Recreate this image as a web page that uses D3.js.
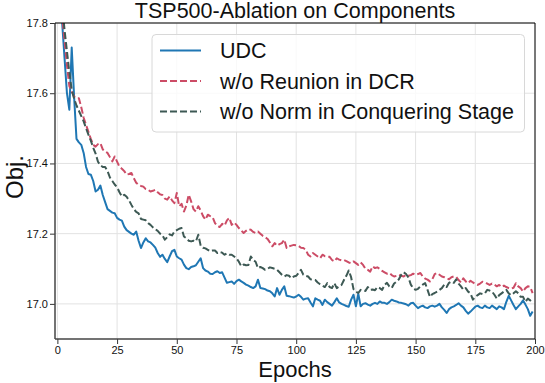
<!DOCTYPE html>
<html><head><meta charset="utf-8">
<script src="https://cdn.jsdelivr.net/npm/d3@7"></script>
<style>body{margin:0;background:#fff;}svg{display:block;font-family:"Liberation Sans",Arial,sans-serif;}</style>
</head><body><svg id="c" width="545" height="383"></svg>
<script>
const title = "TSP500-Ablation on Components";
const xLabel = "Epochs";
const yLabel = "Obj.";
const seriesNames = ["UDC", "w/o Reunion in DCR", "w/o Norm in Conquering Stage"];
const xTicks = [0, 25, 50, 75, 100, 125, 150, 175, 200];
const yTicks = [17.0, 17.2, 17.4, 17.6, 17.8];

const udc = [18.40,18.00,17.80,17.70,17.60,17.553,17.73,17.59,17.47,17.46,
17.453,17.43,17.39,17.37,17.368,17.35,17.32,17.325,17.337,17.31,
17.29,17.27,17.265,17.26,17.258,17.245,17.24,17.237,17.22,17.21,
17.205,17.2,17.197,17.206,17.18,17.159,17.175,17.187,17.178,17.175,
17.168,17.16,17.145,17.134,17.14,17.128,17.119,17.135,17.15,17.154,
17.135,17.13,17.126,17.112,17.102,17.099,17.105,17.107,17.11,17.12,
17.13,17.102,17.095,17.092,17.086,17.085,17.09,17.093,17.088,17.09,
17.075,17.06,17.062,17.064,17.057,17.065,17.069,17.064,17.06,17.055,
17.052,17.048,17.045,17.05,17.069,17.045,17.044,17.042,17.038,17.036,
17.03,17.021,17.045,17.026,17.04,17.05,17.023,17.022,17.02,17.018,
17.021,17.026,17.02,17.012,17.015,17.016,17.004,16.993,17.016,17.012,
17.009,16.997,17.012,17.005,17.0,16.995,17.005,17.016,17.004,17.0,
16.997,16.994,16.992,17.012,17.026,16.993,17.029,16.993,17.0,17.002,
16.998,16.995,17.0,17.003,17.0,17.007,17.003,17.003,17.0,17.005,
17.012,17.009,17.007,17.004,17.003,17.001,16.999,16.995,17.002,17.003,
16.995,16.988,16.992,16.995,16.99,16.988,16.993,16.995,16.992,16.995,
17.0,16.99,16.983,16.974,16.985,16.99,16.993,16.997,17.002,16.995,
16.99,16.98,16.972,16.978,16.985,16.992,16.995,16.99,16.988,16.995,
16.99,16.988,16.995,16.99,16.985,16.993,16.99,16.985,17.006,17.023,
17.01,16.997,16.985,16.993,17.0,17.01,16.998,16.985,16.966,16.978];

const noReunion = [18.4,18.0,17.82,17.75,17.68,17.62,17.605,17.59,17.586,17.586,
17.56,17.53,17.51,17.49,17.47,17.453,17.448,17.455,17.458,17.44,
17.434,17.43,17.418,17.406,17.42,17.405,17.39,17.385,17.378,17.368,
17.37,17.373,17.358,17.345,17.339,17.336,17.334,17.327,17.325,17.32,
17.322,17.325,17.318,17.312,17.31,17.3,17.297,17.306,17.295,17.287,
17.316,17.278,17.285,17.263,17.28,17.311,17.292,17.27,17.263,17.278,
17.266,17.25,17.24,17.254,17.25,17.247,17.23,17.222,17.219,17.228,
17.223,17.238,17.245,17.225,17.232,17.225,17.216,17.209,17.202,17.208,
17.213,17.211,17.205,17.202,17.206,17.2,17.194,17.19,17.185,17.175,
17.164,17.173,17.166,17.17,17.173,17.183,17.159,17.164,17.166,17.168,
17.167,17.165,17.16,17.159,17.154,17.14,17.135,17.145,17.14,17.135,
17.13,17.14,17.136,17.135,17.134,17.125,17.121,17.13,17.126,17.124,
17.125,17.122,17.118,17.116,17.121,17.116,17.111,17.118,17.111,17.1,
17.097,17.092,17.107,17.102,17.104,17.1,17.094,17.09,17.086,17.088,
17.082,17.078,17.08,17.083,17.08,17.078,17.083,17.08,17.082,17.086,
17.083,17.085,17.088,17.078,17.072,17.069,17.064,17.07,17.085,17.088,
17.083,17.078,17.076,17.073,17.07,17.076,17.078,17.077,17.068,17.061,
17.073,17.064,17.059,17.066,17.061,17.057,17.054,17.058,17.063,17.06,
17.058,17.054,17.058,17.055,17.05,17.054,17.048,17.052,17.048,17.045,
17.043,17.046,17.059,17.05,17.045,17.035,17.045,17.05,17.048,17.031];

const noNorm = [18.4,18.0,17.85,17.78,17.72,17.66,17.61,17.585,17.565,17.55,
17.535,17.52,17.5,17.482,17.465,17.445,17.428,17.405,17.395,17.39,
17.39,17.378,17.36,17.35,17.34,17.332,17.318,17.306,17.311,17.305,
17.295,17.282,17.27,17.262,17.258,17.242,17.24,17.238,17.23,17.225,
17.218,17.213,17.208,17.2,17.195,17.183,17.19,17.198,17.195,17.206,
17.21,17.214,17.216,17.192,17.187,17.18,17.178,17.18,17.178,17.197,
17.166,17.16,17.158,17.154,17.15,17.152,17.152,17.145,17.148,17.146,
17.14,17.144,17.14,17.14,17.135,17.13,17.12,17.107,17.112,17.11,
17.111,17.135,17.125,17.12,17.102,17.105,17.102,17.097,17.1,17.104,
17.102,17.1,17.097,17.09,17.083,17.078,17.082,17.08,17.073,17.078,
17.08,17.088,17.097,17.083,17.08,17.078,17.07,17.069,17.068,17.061,
17.056,17.052,17.048,17.059,17.048,17.045,17.059,17.045,17.05,17.054,
17.068,17.08,17.095,17.076,17.042,17.035,17.031,17.04,17.038,17.037,
17.048,17.04,17.041,17.039,17.048,17.045,17.04,17.054,17.06,17.05,
17.045,17.058,17.063,17.07,17.083,17.09,17.085,17.075,17.055,17.045,
17.04,17.043,17.05,17.055,17.059,17.04,17.02,17.028,17.031,17.035,
17.04,17.045,17.055,17.048,17.06,17.064,17.06,17.07,17.058,17.05,
17.04,17.045,17.035,17.03,17.012,17.02,17.025,17.03,17.028,17.03,
17.04,17.038,17.035,17.026,17.015,17.025,17.03,17.035,17.04,17.03,
17.025,17.03,17.036,17.03,17.02,17.02,17.006,17.015,17.01,17.016];

const epochs = d3.range(udc.length);
const seriesValues = [udc, noReunion, noNorm];
const colors = ["#1f77b4", "#cc4c66", "#3d5954"];
const dashes = [null, "7,3", "7,3"];

const svg = d3.select("#c");
const m = {l: 55, r: 10, t: 23, b: 44};
const W = 545, H = 383;
const x = d3.scaleLinear().domain([-1, 200]).range([m.l, W - m.r]);
const y = d3.scaleLinear().domain([16.9, 17.8]).range([H - m.b, m.t]);

// grid
const g = svg.append("g");
g.selectAll(".gx").data(xTicks).enter().append("line")
  .attr("x1", d => x(d)).attr("x2", d => x(d)).attr("y1", y(16.9)).attr("y2", y(17.8))
  .attr("stroke", "#e2e2e2").attr("stroke-width", 1);
g.selectAll(".gy").data(yTicks).enter().append("line")
  .attr("x1", x(-1)).attr("x2", x(200)).attr("y1", d => y(d)).attr("y2", d => y(d))
  .attr("stroke", "#e2e2e2").attr("stroke-width", 1);

// clip
svg.append("clipPath").attr("id", "clip").append("rect")
  .attr("x", x(-1)).attr("y", y(17.8)).attr("width", x(200) - x(-1)).attr("height", y(16.9) - y(17.8));

const line = d3.line().x((d, i) => x(epochs[i])).y(d => y(d));
const lg = svg.append("g").attr("clip-path", "url(#clip)");
seriesValues.forEach((vals, k) => {
  lg.append("path").datum(vals).attr("d", line)
    .attr("fill", "none").attr("stroke", colors[k]).attr("stroke-width", 2)
    .attr("stroke-linejoin", "round")
    .attr("stroke-dasharray", dashes[k]);
});

// axes
const xAxis = d3.axisBottom(x).tickValues(xTicks).tickSize(5).tickPadding(2).tickFormat(d3.format("d"));
const yAxis = d3.axisLeft(y).tickValues(yTicks).tickSize(5).tickPadding(2).tickFormat(d3.format(".1f"));
const ax = svg.append("g").attr("transform", `translate(0,${y(16.9)})`).call(xAxis);
const ay = svg.append("g").attr("transform", `translate(${x(-1)},0)`).call(yAxis);
[ax, ay].forEach(a => {
  a.select(".domain").remove();
  a.selectAll("line").attr("stroke", "#333");
  a.selectAll("text").attr("fill", "#111").style("font-size", "11px");
});

// spines
svg.append("line").attr("x1", x(-1)).attr("x2", x(-1)).attr("y1", y(17.8)).attr("y2", y(16.9)).attr("stroke", "#444").attr("stroke-width", 1.5);
svg.append("line").attr("x1", x(-1)).attr("x2", x(200)).attr("y1", y(16.9)).attr("y2", y(16.9)).attr("stroke", "#444").attr("stroke-width", 1.5);
svg.append("line").attr("x1", x(-1)).attr("x2", x(200)).attr("y1", y(17.8)).attr("y2", y(17.8)).attr("stroke", "#000").attr("stroke-width", 1);
svg.append("line").attr("x1", x(200)).attr("x2", x(200)).attr("y1", y(17.8)).attr("y2", y(16.9)).attr("stroke", "#000").attr("stroke-width", 1);

// title & labels
svg.append("text").attr("x", (x(-1) + x(200)) / 2).attr("y", 17.5).attr("text-anchor", "middle")
  .style("font-size", "21.5px").attr("fill", "#111").text(title);
svg.append("text").attr("x", (x(-1) + x(200)) / 2).attr("y", 377).attr("text-anchor", "middle")
  .style("font-size", "22px").attr("fill", "#111").text(xLabel);
svg.append("text").attr("transform", `translate(23,${(y(17.8) + y(16.9)) / 2 - 4}) rotate(-90)`).attr("text-anchor", "middle")
  .style("font-size", "24px").attr("fill", "#111").text(yLabel);

// legend
const leg = svg.append("g");
leg.append("rect").attr("x", 152).attr("y", 34.5).attr("width", 372.5).attr("height", 97.5).attr("rx", 4)
  .attr("fill", "#fff").attr("fill-opacity", 0.8).attr("stroke", "#d8d8d8").attr("stroke-width", 1);
const legY = [50.5, 81, 111.5];
seriesNames.forEach((name, k) => {
  leg.append("line").attr("x1", 160).attr("x2", 201).attr("y1", legY[k]).attr("y2", legY[k])
    .attr("stroke", colors[k]).attr("stroke-width", 2).attr("stroke-dasharray", dashes[k]);
  leg.append("text").attr("x", 220).attr("y", legY[k] + 7.5).style("font-size", "21.5px").attr("fill", "#111").text(name);
});
</script></body></html>
